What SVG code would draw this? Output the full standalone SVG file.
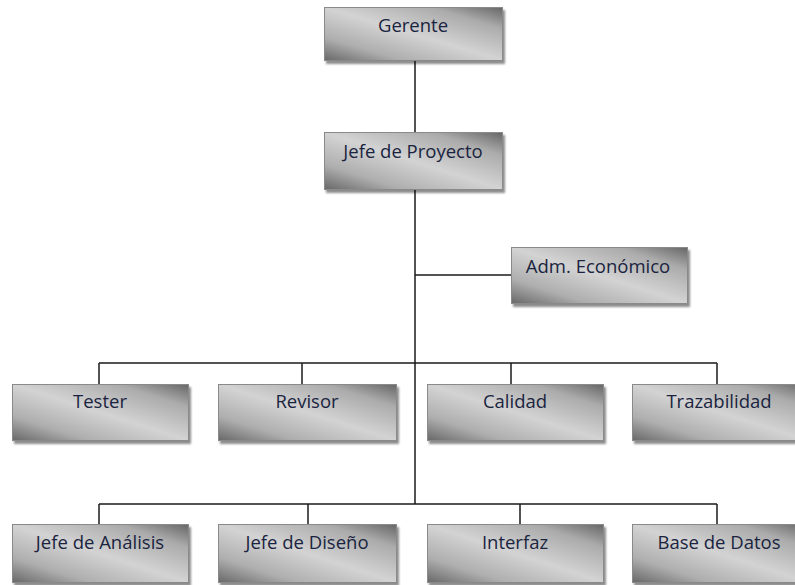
<svg xmlns="http://www.w3.org/2000/svg" width="795" height="585" viewBox="0 0 795 585">
  <defs>
    <linearGradient id="boxFill" x1="1" y1="0" x2="0" y2="1">
      <stop offset="0" stop-color="#666666"/>
      <stop offset="0.2" stop-color="#ababab"/>
      <stop offset="0.5" stop-color="#d3d3d3"/>
      <stop offset="0.78" stop-color="#aeaeae"/>
      <stop offset="1" stop-color="#686868"/>
    </linearGradient>
    <filter id="shadow" x="-10%" y="-20%" width="130%" height="150%">
      <feGaussianBlur in="SourceAlpha" stdDeviation="1.2"/>
      <feOffset dx="2" dy="3" result="off"/>
      <feComponentTransfer><feFuncA type="linear" slope="0.45"/></feComponentTransfer>
      <feMerge><feMergeNode/><feMergeNode in="SourceGraphic"/></feMerge>
    </filter>
  </defs>
  <style>
    .box { fill: url(#boxFill); stroke: #8a8a8a; stroke-width: 1; filter: url(#shadow); }
    .lbl { font-family: "Open Sans", "Noto Sans", "Liberation Sans", sans-serif; font-size: 18.5px; font-weight: 500; fill: #1a2440; text-anchor: middle; }
    .wire { stroke: #1a1a1a; stroke-width: 1.5; fill: none; }
  </style>
  <rect width="795" height="585" fill="#ffffff"/>

  <g id="connectors">
    <line class="wire" x1="415" y1="60" x2="415" y2="132"/>
    <line class="wire" x1="415" y1="190" x2="415" y2="504"/>
    <line class="wire" x1="415" y1="275" x2="511" y2="275"/>
    <line class="wire" x1="99" y1="363" x2="717" y2="363"/>
    <line class="wire" x1="99" y1="363" x2="99" y2="384"/>
    <line class="wire" x1="302" y1="363" x2="302" y2="384"/>
    <line class="wire" x1="511" y1="363" x2="511" y2="384"/>
    <line class="wire" x1="717" y1="363" x2="717" y2="384"/>
    <line class="wire" x1="99" y1="504" x2="717" y2="504"/>
    <line class="wire" x1="99" y1="504" x2="99" y2="524"/>
    <line class="wire" x1="308" y1="504" x2="308" y2="524"/>
    <line class="wire" x1="520" y1="504" x2="520" y2="524"/>
    <line class="wire" x1="717" y1="504" x2="717" y2="524"/>
  </g>

  <g id="gerente">
    <rect class="box" x="324.5" y="7.5" width="178" height="53"/>
    <text class="lbl" x="413" y="32">Gerente</text>
  </g>
  <g id="jefe-proyecto">
    <rect class="box" x="324.5" y="132.5" width="178" height="57"/>
    <text class="lbl" x="413" y="158">Jefe de Proyecto</text>
  </g>
  <g id="adm-economico">
    <rect class="box" x="511.5" y="247.5" width="176" height="56"/>
    <text class="lbl" x="598" y="273">Adm. Económico</text>
  </g>

  <g id="tester">
    <rect class="box" x="12.5" y="384.5" width="176" height="56"/>
    <text class="lbl" x="100" y="408">Tester</text>
  </g>
  <g id="revisor">
    <rect class="box" x="218.5" y="384.5" width="178" height="56"/>
    <text class="lbl" x="307" y="408">Revisor</text>
  </g>
  <g id="calidad">
    <rect class="box" x="427.5" y="384.5" width="176" height="56"/>
    <text class="lbl" x="515" y="408">Calidad</text>
  </g>
  <g id="trazabilidad">
    <rect class="box" x="632.5" y="384.5" width="176" height="56"/>
    <text class="lbl" x="719" y="408">Trazabilidad</text>
  </g>

  <g id="jefe-analisis">
    <rect class="box" x="12.5" y="524.5" width="176" height="58"/>
    <text class="lbl" x="100" y="549">Jefe de Análisis</text>
  </g>
  <g id="jefe-diseno">
    <rect class="box" x="218.5" y="524.5" width="178" height="58"/>
    <text class="lbl" x="307" y="549">Jefe de Diseño</text>
  </g>
  <g id="interfaz">
    <rect class="box" x="427.5" y="524.5" width="176" height="58"/>
    <text class="lbl" x="515" y="549">Interfaz</text>
  </g>
  <g id="base-datos">
    <rect class="box" x="632.5" y="524.5" width="176" height="58"/>
    <text class="lbl" x="719" y="549">Base de Datos</text>
  </g>
</svg>
